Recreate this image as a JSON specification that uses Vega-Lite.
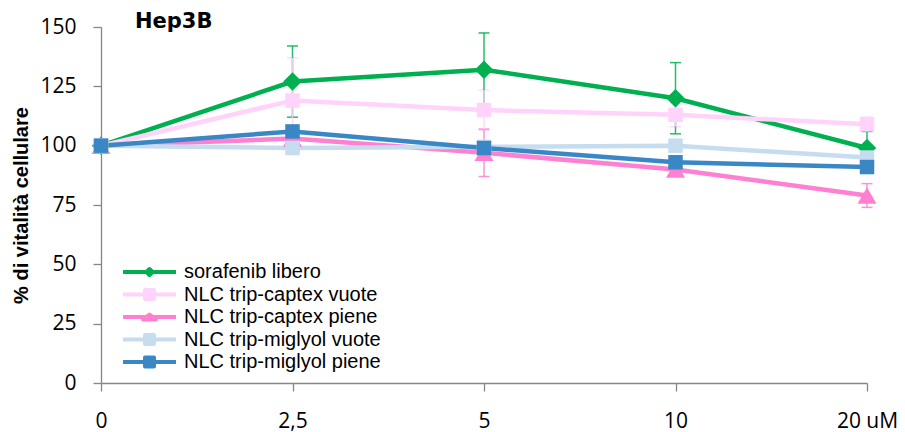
{
  "$schema": "https://vega.github.io/schema/vega-lite/v6.json",
  "width": 766,
  "height": 356,
  "autosize": {"type": "none"},
  "padding": {"left": 101, "top": 27, "right": 38, "bottom": 49},
  "background": "white",
  "config": {"view": {"stroke": null}, "axis": {"grid": false}},
  "title": {"text": "Hep3B", "anchor": "start", "frame": "group", "font": "DejaVu Sans", "fontWeight": "bold", "fontSize": 21, "color": "black", "baseline": "alphabetic", "offset": 0, "dx": 34, "dy": 33},
  "data": {"values": [
    {"conc": "0", "series": "sorafenib libero", "v": 100, "err": 0},
    {"conc": "2,5", "series": "sorafenib libero", "v": 127, "err": 15},
    {"conc": "5", "series": "sorafenib libero", "v": 132, "err": 15.5},
    {"conc": "10", "series": "sorafenib libero", "v": 120, "err": 15},
    {"conc": "20", "series": "sorafenib libero", "v": 99, "err": 7},
    {"conc": "0", "series": "NLC trip-captex vuote", "v": 100, "err": 0},
    {"conc": "2,5", "series": "NLC trip-captex vuote", "v": 119, "err": 18},
    {"conc": "5", "series": "NLC trip-captex vuote", "v": 115, "err": 8.5},
    {"conc": "10", "series": "NLC trip-captex vuote", "v": 113, "err": 5},
    {"conc": "20", "series": "NLC trip-captex vuote", "v": 109, "err": 3},
    {"conc": "0", "series": "NLC trip-captex piene", "v": 100, "err": 0},
    {"conc": "2,5", "series": "NLC trip-captex piene", "v": 103, "err": 0},
    {"conc": "5", "series": "NLC trip-captex piene", "v": 97, "err": 10},
    {"conc": "10", "series": "NLC trip-captex piene", "v": 90, "err": 0},
    {"conc": "20", "series": "NLC trip-captex piene", "v": 79, "err": 5},
    {"conc": "0", "series": "NLC trip-miglyol vuote", "v": 100, "err": 0},
    {"conc": "2,5", "series": "NLC trip-miglyol vuote", "v": 99, "err": 0},
    {"conc": "5", "series": "NLC trip-miglyol vuote", "v": 99.5, "err": 0},
    {"conc": "10", "series": "NLC trip-miglyol vuote", "v": 100, "err": 0},
    {"conc": "20", "series": "NLC trip-miglyol vuote", "v": 95, "err": 0},
    {"conc": "0", "series": "NLC trip-miglyol piene", "v": 100, "err": 0},
    {"conc": "2,5", "series": "NLC trip-miglyol piene", "v": 106, "err": 0},
    {"conc": "5", "series": "NLC trip-miglyol piene", "v": 99, "err": 0},
    {"conc": "10", "series": "NLC trip-miglyol piene", "v": 93, "err": 0},
    {"conc": "20", "series": "NLC trip-miglyol piene", "v": 91, "err": 0}
  ]},
  "encoding": {
    "x": {
      "field": "conc", "type": "ordinal", "sort": ["0", "2,5", "5", "10", "20"],
      "scale": {"type": "point", "padding": 0},
      "axis": {"title": null, "labelAngle": 0, "labelFont": "Open Sans", "labelFontSize": 21, "labelColor": "black", "labelPadding": 19, "tickSize": 8, "tickColor": "#868686", "domainColor": "#868686", "domainWidth": 1.3, "tickWidth": 1.3, "labelBound": false, "labelOverlap": false, "labelExpr": "datum.label == '20' ? '20 uM' : datum.label"}
    },
    "y": {
      "field": "v", "type": "quantitative",
      "scale": {"domain": [0, 150], "nice": false, "zero": true},
      "axis": {"values": [0, 25, 50, 75, 100, 125, 150], "title": "% di vitalità cellulare", "titleFont": "Liberation Sans", "titleFontSize": 20, "titleFontWeight": "bold", "titleColor": "black", "titlePadding": 8, "labelFont": "Open Sans", "labelFontSize": 21, "labelColor": "black", "labelPadding": 17, "tickSize": 8, "tickColor": "#868686", "domainColor": "#868686", "domainWidth": 1.3, "tickWidth": 1.3}
    },
    "color": {
      "field": "series", "type": "nominal",
      "scale": {
        "domain": ["sorafenib libero", "NLC trip-captex vuote", "NLC trip-captex piene", "NLC trip-miglyol vuote", "NLC trip-miglyol piene"],
        "range": ["#00B050", "#FFD3FA", "#FF7FD0", "#C6DCEF", "#3A87C5"]
      },
      "legend": {
        "orient": "none", "legendX": 38.5, "legendY": 235, "title": null, "padding": 0,
        "labelFont": "Liberation Sans", "labelFontSize": 20, "labelColor": "black", "labelLimit": 400, "labelOffset": 24.5,
        "symbolSize": 100, "symbolStrokeWidth": 4, "rowPadding": 2.5,
        "encode": {
          "symbols": {
            "update": {
              "shape": {"signal": "datum.value === 'sorafenib libero' ? 'M-5.3,0H5.3M0,-0.6L0.6,0L0,0.6L-0.6,0Z' : datum.value === 'NLC trip-captex piene' ? 'M-5.3,0H5.3M0,-0.5L1.3,0.5H-1.3Z' : 'M-5.3,0H5.3M-0.9,-0.9H0.9V0.9H-0.9Z'"},
              "size": {"value": 100},
              "fill": {"scale": "color", "field": "value"},
              "stroke": {"scale": "color", "field": "value"},
              "strokeWidth": {"value": 4},
              "strokeJoin": {"value": "round"},
              "opacity": {"value": 1},
              "fillOpacity": {"value": 1}
            }
          }
        }
      }
    }
  },
  "layer": [
    {
      "transform": [{"filter": "datum.err > 0"}],
      "mark": {"type": "errorbar", "ticks": {"size": 11, "thickness": 1.5}, "thickness": 1.5, "opacity": 0.85},
      "encoding": {
        "yError": {"field": "err"}
      }
    },
    {
      "mark": {"type": "line", "strokeWidth": 4.5}
    },
    {
      "transform": [{"filter": "datum.series === 'sorafenib libero'"}],
      "mark": {"type": "point", "filled": true, "opacity": 1, "shape": "diamond", "size": 340}
    },
    {
      "transform": [{"filter": "datum.series === 'NLC trip-captex piene'"}],
      "mark": {"type": "point", "filled": true, "opacity": 1, "shape": "triangle-up", "size": 361}
    },
    {
      "transform": [{"filter": "datum.series !== 'sorafenib libero' && datum.series !== 'NLC trip-captex piene'"}],
      "mark": {"type": "point", "filled": true, "opacity": 1, "shape": "square", "size": 210}
    }
  ]
}
